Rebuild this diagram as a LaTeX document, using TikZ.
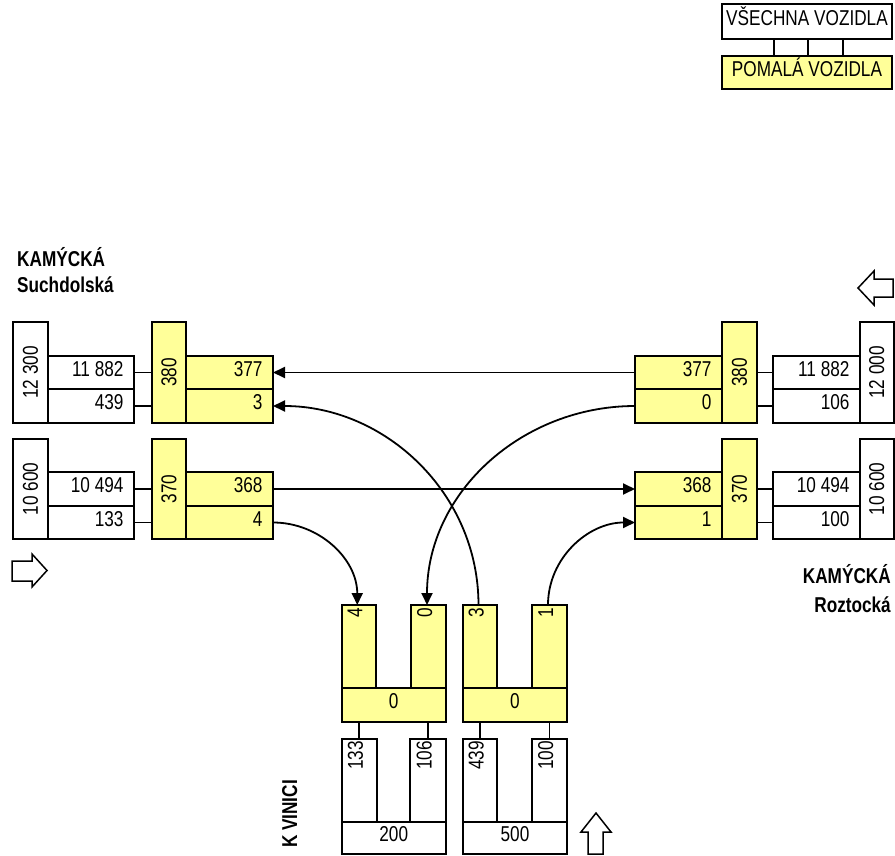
\documentclass[tikz,border=0pt]{standalone}
\usepackage{fontspec}
\setmainfont[FakeStretch=0.8]{Liberation Sans}
\usetikzlibrary{arrows.meta,calc}
\definecolor{yel}{RGB}{255,255,153}
\newcommand\Bx[7]{%
  \pgfmathsetmacro\bxw{#5-#3}%
  \pgfmathsetmacro\bxh{#6-#4}%
  \pgfmathsetmacro\bxcx{(#3+#5)/2}%
  \pgfmathsetmacro\bxcy{-(#4+#6)/2}%
  \pgfmathsetmacro\bxtw{#5-#3-21}%
  \node[#1, minimum width=\bxw pt, minimum height=\bxh pt] (#2) at (\bxcx,\bxcy) {#7};%
}
\tikzset{
  bx/.style={draw, line width=2pt, inner sep=0pt, outer sep=0pt},
  wbox/.style={bx, fill=white},
  ybox/.style={bx, fill=yel},
  cnum/.style={text height=0.72em, text depth=0pt},
  rnum/.style={text height=0.72em, text depth=0pt,
    execute at begin node={\hbox to \bxtw pt\bgroup\hss},
    execute at end node={\egroup}},
  rnode/.style={rotate=90, anchor=east, inner sep=0pt, text height=0.72em, text depth=0pt},
  conn/.style={line width=1.8pt},
  arr/.style={-{Triangle[length=12pt,width=11pt]}},
  lbl/.style={inner sep=0pt, font=\fontsize{21.5}{25}\selectfont\bfseries},
  hollow/.style={draw, line width=1.5pt, fill=white, line join=miter}
}
\begin{document}
\begin{tikzpicture}[x=1pt, y=1pt, font=\fontsize{21.5}{25}\selectfont]
\useasboundingbox (0,0) rectangle (895,-856);

% legend
\Bx{wbox,cnum}{LegA}{722}{4}{892}{39}{VŠECHNA VOZIDLA}
\Bx{ybox,cnum}{LegB}{722}{56}{892}{89}{POMALÁ VOZIDLA}
\foreach \f in {0.306,0.506,0.712}
  \draw[conn] ($(LegA.south west)!\f!(LegA.south east)$) -- ($(LegB.north west)!\f!(LegB.north east)$);

% labels
\node[lbl, anchor=base west] (kam1) at (17,-266) {KAMÝCKÁ};
\node[lbl, anchor=base west] (such) at (17,-292) {Suchdolská};
\node[lbl, anchor=base east] (kam2) at (891,-583) {KAMÝCKÁ};
\node[lbl, anchor=base east] (rozt) at (891,-612) {Roztocká};
\node[lbl, rotate=90, anchor=base] (kvin) at (297,-814) {K VINICI};

% left, row 1
\Bx{wbox}{LW1}{13}{322}{48}{423}{\rotatebox{90}{12 300}}
\Bx{wbox,rnum}{Lw1a}{48}{356}{134}{389}{11 882}
\Bx{wbox,rnum}{Lw1b}{48}{389}{134}{423}{439}
\Bx{ybox}{LY1}{152}{322}{186}{423}{\rotatebox{90}{380}}
\Bx{ybox,rnum}{Ly1a}{186}{356}{273}{389}{377}
\Bx{ybox,rnum}{Ly1b}{186}{389}{273}{423}{3}
% left, row 2
\Bx{wbox}{LW2}{13}{439}{48}{539}{\rotatebox{90}{10 600}}
\Bx{wbox,rnum}{Lw2a}{48}{472}{134}{506}{10 494}
\Bx{wbox,rnum}{Lw2b}{48}{506}{134}{539}{133}
\Bx{ybox}{LY2}{152}{439}{186}{539}{\rotatebox{90}{370}}
\Bx{ybox,rnum}{Ly2a}{186}{472}{273}{506}{368}
\Bx{ybox,rnum}{Ly2b}{186}{506}{273}{539}{4}

% right, row 1
\Bx{ybox,rnum}{Ry1a}{635}{356}{722}{389}{377}
\Bx{ybox,rnum}{Ry1b}{635}{389}{722}{423}{0}
\Bx{ybox}{RY1}{722}{322}{757}{423}{\rotatebox{90}{380}}
\Bx{wbox,rnum}{Rw1a}{773}{356}{860}{389}{11 882}
\Bx{wbox,rnum}{Rw1b}{773}{389}{860}{423}{106}
\Bx{wbox}{RW1}{860}{322}{893.5}{423}{\rotatebox{90}{12 000}}
% right, row 2
\Bx{ybox,rnum}{Ry2a}{635}{472}{722}{506}{368}
\Bx{ybox,rnum}{Ry2b}{635}{506}{722}{539}{1}
\Bx{ybox}{RY2}{722}{439}{757}{539}{\rotatebox{90}{370}}
\Bx{wbox,rnum}{Rw2a}{773}{472}{860}{506}{10 494}
\Bx{wbox,rnum}{Rw2b}{773}{506}{860}{539}{100}
\Bx{wbox}{RW2}{860}{439}{893.5}{539}{\rotatebox{90}{10 600}}

% short connectors
\foreach \a/\b in {Lw1a/LY1, Lw1b/LY1, Lw2a/LY2, Lw2b/LY2}
  \draw[conn] (\a.east) -- (\a.east -| \b.west);
\foreach \a/\b in {Rw1a/RY1, Rw1b/RY1, Rw2a/RY2, Rw2b/RY2}
  \draw[conn] (\b.east |- \a.west) -- (\a.west);

% bottom yellow U's
\Bx{ybox}{UYa1}{341.5}{605}{376}{688}{}
\Bx{ybox}{UYa2}{411}{605}{446}{688}{}
\Bx{ybox,cnum}{UYab}{341.5}{688}{446}{722}{0}
\Bx{ybox}{UYb1}{463}{605}{497}{688}{}
\Bx{ybox}{UYb2}{532}{605}{567}{688}{}
\Bx{ybox,cnum}{UYbb}{463}{688}{567}{722}{0}
% bottom white U's
\Bx{wbox}{UWa1}{341.5}{739}{377}{822}{}
\Bx{wbox}{UWa2}{410}{739}{446}{822}{}
\Bx{wbox,cnum}{UWab}{341.5}{822}{446}{854}{200}
\Bx{wbox}{UWb1}{463}{739}{497}{822}{}
\Bx{wbox}{UWb2}{532}{739}{567}{822}{}
\Bx{wbox,cnum}{UWbb}{463}{822}{567}{854}{500}

\node[rnode] (tYa1) at ([yshift=-3pt]UYa1.north) {4};
\node[rnode] (tYa2) at ([yshift=-3pt]UYa2.north) {0};
\node[rnode] (tYb1) at ([yshift=-3pt]UYb1.north) {3};
\node[rnode] (tYb2) at ([yshift=-3pt]UYb2.north) {1};
\node[rnode] (tWa1) at ([yshift=-2pt]UWa1.north) {133};
\node[rnode] (tWa2) at ([yshift=-2pt]UWa2.north) {106};
\node[rnode] (tWb1) at ([yshift=-2pt]UWb1.north) {439};
\node[rnode] (tWb2) at ([yshift=-2pt]UWb2.north) {100};

\foreach \w/\y in {UWa1/UYab, UWa2/UYab, UWb1/UYbb, UWb2/UYbb}
  \draw[conn] (\w.north) -- (\w.north |- \y.south);

% flows
\draw[conn, arr] (Ry1a.west) -- (Ly1a.east);
\draw[conn, arr] (Ly2a.east) -- (Ry2a.west);
\draw[conn, arr] (Ly2b.east) to[out=0, in=90] ([xshift=-1.5pt]UYa1.north);
\draw[conn, arr] (Ry1b.west) to[out=180, in=90] ([xshift=-1.5pt]UYa2.north);
\draw[conn, arr] ([xshift=-1.5pt]UYb1.north) to[out=90, in=0] (Ly1b.east);
\draw[conn, arr] ([xshift=-1.5pt]UYb2.north) to[out=90, in=180] (Ry2b.west);

% hollow direction arrows
\draw[hollow] (12,-561) -- (32,-561) -- (32,-554) -- (47,-570.5) -- (32,-587) -- (32,-581) -- (12,-581) -- cycle;
\draw[hollow] (893,-279) -- (874,-279) -- (874,-271) -- (858,-288) -- (874,-305) -- (874,-297) -- (893,-297) -- cycle;
\draw[hollow] (588,-854) -- (588,-832) -- (581,-832) -- (596,-813) -- (611,-832) -- (603,-832) -- (603,-854) -- cycle;
\end{tikzpicture}
\end{document}
